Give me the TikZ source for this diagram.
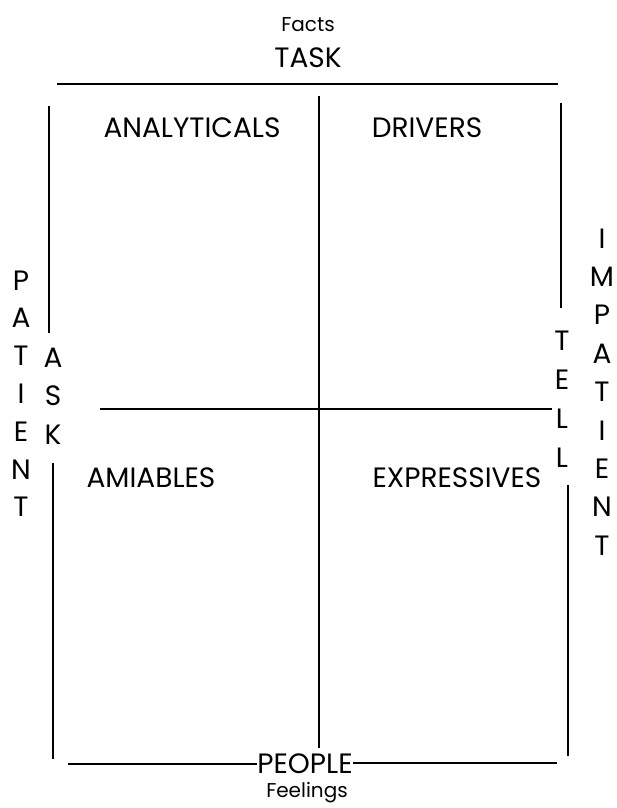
\documentclass[tikz,border=0pt]{standalone}
\usepackage{fontspec}
\setmainfont{Poppins}
\tikzset{
  rule/.style={line width=2.4pt, line cap=butt},
  quad/.style={font=\fontsize{28}{30}\selectfont, inner sep=0pt, anchor=base},
  axis/.style={font=\fontsize{28}{30}\selectfont, inner sep=0pt, anchor=base},
  small/.style={font=\fontsize{20}{22}\selectfont, inner sep=0pt, anchor=base},
  letter/.style={font=\fontsize{28}{30}\selectfont, inner sep=0pt,
    text height=20pt, text depth=0pt, anchor=center},
}
\begin{document}
\begin{tikzpicture}[x=1pt, y=-1pt]
    \useasboundingbox (0,0) rectangle (617,808);
    % Top and bottom labels
    \node[small] (facts) at (308,32) {Facts};
    \node[axis] (task) at (308,67) {TASK};
    \node[axis] (people) at (305,773) {PEOPLE};
    \node[small] (feelings) at (307,797) {Feelings};
    % Frame
    \draw[rule] (57,84) -- (558,84);
    \draw[rule] (49,106) -- (49,333);
    \draw[rule] (53,463) -- (53,759);
    \draw[rule] (561,103) -- (561,308);
    \draw[rule] (568,485) -- (568,756);
    \draw[rule] (68,764) -- (people.west |- 0,764);
    \draw[rule] (people.east |- 0,763) -- (557,763);
    % Cross
    \draw[rule] (319,96) -- (319,748);
    \draw[rule] (100,409) -- (552,409);
    % Quadrants
    \node[quad] (analyticals) at (192,137) {ANALYTICALS};
    \node[quad] (drivers) at (427,137) {DRIVERS};
    \node[quad] (amiables) at (151,487) {AMIABLES};
    \node[quad] (expressives) at (457,487) {EXPRESSIVES};
    % Side words, one letter per line
    \foreach \c [count=\i from 0] in {P,A,T,I,E,N,T}
        \node[letter] (patient-\i) at (21,280+37.8*\i) {\c};
    \foreach \c [count=\i from 0] in {A,S,K}
        \node[letter] (ask-\i) at (53,357+38.5*\i) {\c};
    \foreach \c [count=\i from 0] in {T,E,L,L}
        \node[letter] (tell-\i) at (562,340+39*\i) {\c};
    \foreach \c [count=\i from 0] in {I,M,P,A,T,I,E,N,T}
        \node[letter] (impatient-\i) at (602,238+38.4*\i) {\c};
\end{tikzpicture}
\end{document}
